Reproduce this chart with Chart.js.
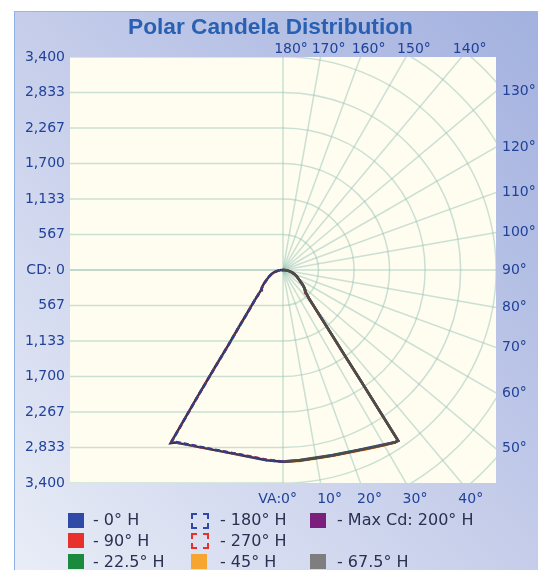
<!DOCTYPE html>
<html><head><meta charset="utf-8">
<script src="https://cdn.jsdelivr.net/npm/chart.js@4.4.1/dist/chart.umd.min.js"></script>
<style>
html,body{margin:0;padding:0;background:#fff;width:538px;height:570px;overflow:hidden;}
#frame{position:absolute;left:14px;top:11px;width:524px;height:559px;background:linear-gradient(to bottom left,#a3b1df 0%,#c5cdea 50%,#e9edf7 100%);border-left:1px solid #8fb0e4;border-top:1px solid #9fb6e4;box-sizing:border-box;}
#c{position:absolute;left:0;top:0;}
#title{position:absolute;left:0;top:15px;width:541px;text-align:center;font:bold 22.7px "Liberation Sans",Arial,sans-serif;color:#2a60b2;line-height:22px;white-space:nowrap;}
.lg{position:absolute;font:16px "DejaVu Sans",sans-serif;color:#2a3050;line-height:20px;white-space:nowrap;}
.sw{position:absolute;width:16px;height:15px;box-sizing:border-box;}
</style></head>
<body>
<div id="frame"></div>
<canvas id="c" width="538" height="570"></canvas>
<div id="title">Polar Candela Distribution</div>
<div id="legend"></div>
<script>
// ---- data ----
const verticalAngles = [0,5,10,15,20,25,30,32,33,34,35,36,37.5,40,42.5,45,47.5,50,52.5,55,60,65,70,75,80,85,90,95,100,110,120,130,140,150,160,170,180];
const cd0   = [3060,3052,3048,3062,3090,3140,3215,3255,3278,3290,2200,1620,1175,800,610,520,480,445,405,360,288,243,196,150,102,55,15,3,0,0,0,0,0,0,0,0,0];
const cd22  = [3055,3045,3040,3058,3085,3150,3225,3260,3280,3285,2230,1640,1190,810,615,524,484,447,402,356,290,245,194,148,100,53,14,3,0,0,0,0,0,0,0,0,0];
const cd45  = [3066,3060,3056,3072,3102,3156,3232,3262,3284,3280,2180,1600,1160,790,600,516,476,442,403,357,285,240,195,149,101,54,15,3,0,0,0,0,0,0,0,0,0];
const cd67  = [3062,3055,3050,3066,3095,3146,3222,3258,3281,3288,2210,1625,1180,805,612,521,481,446,406,361,289,244,197,151,103,56,16,3,0,0,0,0,0,0,0,0,0];
const cd90  = [3058,3050,3046,3064,3098,3150,3228,3262,3285,3276,2190,1610,1170,795,605,518,479,444,404,359,287,242,195,150,102,55,15,3,0,0,0,0,0,0,0,0,0];
const cd180 = [3060,3045,3025,3030,3060,3115,3195,3235,3262,2448,1877,1500,1186,867,690,565,475,440,405,365,290,245,197,150,102,55,15,3,0,0,0,0,0,0,0,0,0];
const cd270 = [3055,3040,3020,3032,3064,3120,3200,3240,3258,2420,1860,1490,1180,860,685,560,472,438,403,362,288,243,196,149,101,54,14,3,0,0,0,0,0,0,0,0,0];
const cd200 = [3062,3048,3030,3036,3068,3124,3205,3246,3294,2470,1890,1510,1192,870,692,566,476,441,406,366,291,246,198,151,103,56,16,3,0,0,0,0,0,0,0,0,0];
const cdTicks = [0,567,1133,1700,2267,2833,3400];
const rightAngleLabels = [50,60,70,80,90,100,110,120,130];
const topAngleLabels = [140,150,160,170,180];
const bottomAngleLabels = [0,10,20,30,40];
const radialAngles = [0,10,20,30,40,50,60,70,80,90,100,110,120,130,140,150,160,170,180];
const maxCd = 3400;

const GRID = 'rgba(150,195,185,0.5)';
const LABEL = '#22429a';

function toXY(vals, side){
  return verticalAngles.map((a,i)=>{
    const r = a*Math.PI/180;
    return {x: side*vals[i]*Math.sin(r), y: -vals[i]*Math.cos(r)};
  });
}

// first entry is drawn on top
const series = [
  {name:'- 180° H', vals:cd180, side:-1, color:'#2a3f8e', dash:[5,3], w:2.5},
  {name:'- 67.5° H', vals:cd67, side:1, color:'#4d4d44', dash:[], w:2.3},
  {name:'- 0° H', vals:cd0, side:1, color:'#2e4aa6', dash:[], w:2.5},
  {name:'- 90° H', vals:cd90, side:1, color:'#e8312a', dash:[], w:2.5},
  {name:'- 22.5° H', vals:cd22, side:1, color:'#1a8a3c', dash:[], w:2.5},
  {name:'- 45° H', vals:cd45, side:1, color:'#f7a531', dash:[], w:2.5},
  {name:'- 270° H', vals:cd270, side:-1, color:'#e8312a', dash:[5,3], w:2.5},
  {name:'- Max Cd: 200° H', vals:cd200, side:-1, color:'#3d3340', dash:[], w:2.5}
];

function fmt(v){ return v===0 ? 'CD: 0' : v.toLocaleString('en-US'); }

const gridPlugin = {
  id:'polarGrid',
  beforeDatasetsDraw(chart){
    const {ctx, chartArea:a, scales:{x,y}} = chart;
    const cx = x.getPixelForValue(0), cy = y.getPixelForValue(0);
    ctx.save();
    ctx.fillStyle = '#fffdef';
    ctx.fillRect(a.left,a.top,a.right-a.left,a.bottom-a.top);
    ctx.beginPath(); ctx.rect(a.left,a.top,a.right-a.left,a.bottom-a.top); ctx.clip();
    ctx.strokeStyle = GRID; ctx.lineWidth = 1.5;
    cdTicks.forEach(v=>{
      [v,-v].forEach(s=>{
        const py = y.getPixelForValue(s);
        ctx.beginPath(); ctx.moveTo(a.left,py); ctx.lineTo(cx,py); ctx.stroke();
      });
    });
    const step = cdTicks[1];
    for(let k=1;k<=10;k++){
      const r = x.getPixelForValue(k*step)-cx;
      ctx.beginPath(); ctx.arc(cx,cy,r,-Math.PI/2,Math.PI/2); ctx.stroke();
    }
    radialAngles.forEach(d=>{
      const t = d*Math.PI/180, L = maxCd*2;
      ctx.beginPath(); ctx.moveTo(cx,cy);
      ctx.lineTo(x.getPixelForValue(L*Math.sin(t)), y.getPixelForValue(-L*Math.cos(t)));
      ctx.stroke();
    });
    ctx.restore();
  },
  afterDraw(chart){
    const {ctx, chartArea:a, scales:{x,y}} = chart;
    ctx.save();
    ctx.fillStyle = LABEL;
    ctx.font = '14px "DejaVu Sans", sans-serif';
    ctx.textBaseline = 'middle';
    ctx.textAlign = 'right';
    cdTicks.forEach(v=>{
      const set = v===0 ? [0] : [v,-v];
      set.forEach(s=>ctx.fillText(fmt(v), a.left-5, y.getPixelForValue(s)));
    });
    function edge(d){
      const t = d*Math.PI/180, sx=Math.sin(t), sy=-Math.cos(t);
      const k = Math.min(Math.abs(sx)>1e-9?maxCd/Math.abs(sx):1e9, Math.abs(sy)>1e-9?maxCd/Math.abs(sy):1e9);
      return {px:x.getPixelForValue(k*sx), py:y.getPixelForValue(k*sy)};
    }
    ctx.textAlign = 'left';
    rightAngleLabels.forEach(d=>{ const p=edge(d); ctx.fillText(d+'°', a.right+6, p.py); });
    ctx.textAlign = 'center';
    topAngleLabels.forEach(d=>{ const p=edge(d); ctx.fillText(d+'°', p.px+8, a.top-8); });
    bottomAngleLabels.forEach(d=>{
      const p=edge(d);
      if(d===0){ ctx.textAlign='right'; ctx.fillText('VA:0°', p.px+14, a.bottom+16); ctx.textAlign='center'; }
      else ctx.fillText(d+'°', p.px+9, a.bottom+16);
    });
    ctx.restore();
  }
};

new Chart(document.getElementById('c'), {
  type:'scatter',
  data:{datasets: series.map(s=>({
    label:s.name, data:toXY(s.vals,s.side), showLine:true, borderColor:s.color,
    backgroundColor:s.color, borderWidth:s.w, borderDash:s.dash, pointRadius:0, tension:0, fill:false
  }))},
  options:{
    responsive:false, animation:false, devicePixelRatio:1,
    layout:{padding:{left:70,top:57,right:42,bottom:87}},
    scales:{
      x:{type:'linear',min:-maxCd,max:maxCd,display:false},
      y:{type:'linear',min:-maxCd,max:maxCd,display:false}
    },
    plugins:{legend:{display:false},tooltip:{enabled:false},title:{display:false}}
  },
  plugins:[gridPlugin]
});

// legend (HTML)
const legendItems = [
  {t:'- 0° H', c:'#2e4aa6', x:68, tx:93, row:0},
  {t:'- 180° H', c:'#2e4aa6', x:191, tx:220, row:0, dashed:true},
  {t:'- Max Cd: 200° H', c:'#7b1f7d', x:310, tx:337, row:0},
  {t:'- 90° H', c:'#e8312a', x:68, tx:93, row:1},
  {t:'- 270° H', c:'#e8312a', x:191, tx:220, row:1, dashed:true},
  {t:'- 22.5° H', c:'#1a8a3c', x:68, tx:93, row:2},
  {t:'- 45° H', c:'#f7a531', x:191, tx:220, row:2},
  {t:'- 67.5° H', c:'#7e7e7e', x:310, tx:337, row:2}
];
const lg = document.getElementById('legend');
legendItems.forEach(it=>{
  const cyRow = 520 + it.row*20.8;
  const sw = document.createElement('div');
  sw.className='sw';
  sw.style.left = it.x+'px'; sw.style.top = (cyRow-7.5)+'px';
  if(it.dashed){ sw.style.border = '2px dashed '+it.c; sw.style.width='18px'; sw.style.height='16px'; }
  else sw.style.background = it.c;
  lg.appendChild(sw);
  const tx = document.createElement('div');
  tx.className='lg'; tx.textContent = it.t;
  tx.style.left = it.tx+'px'; tx.style.top = (cyRow-10)+'px';
  lg.appendChild(tx);
});
</script>
</body></html>
